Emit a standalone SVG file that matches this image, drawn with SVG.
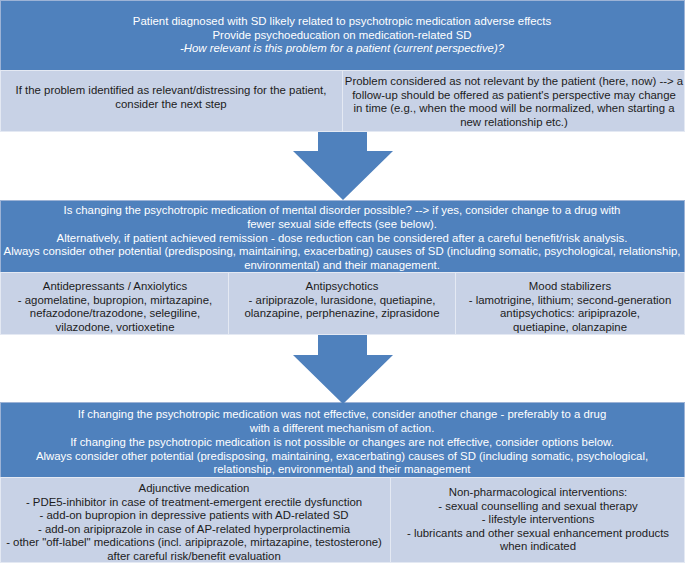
<svg xmlns="http://www.w3.org/2000/svg" width="685" height="563" viewBox="0 0 685 563">
<style>
.blue{fill:#4f81bd;stroke:#9db3d6;stroke-width:1}
.light{fill:#c8d2e6;stroke:#e4e9f3;stroke-width:1}
.arrow{fill:#4f81bd}
text{font-family:"Liberation Sans",Arial,sans-serif;font-size:11.4px;text-anchor:middle}
.w{fill:#ffffff}
.d{fill:#1c1c1c}
.i{font-style:italic}
</style>
<rect width="685" height="563" fill="#ffffff"/>
<g id="step1">
<rect class="blue" x="0.5" y="0.5" width="684" height="70"/>
<text class="w" x="342" y="25">Patient diagnosed with SD likely related to psychotropic medication adverse effects</text>
<text class="w" x="342" y="38.5">Provide psychoeducation on medication-related SD</text>
<text class="w i" x="342" y="52">-How relevant is this problem for a patient (current perspective)?</text>
</g>
<g id="relevant">
<rect class="light" x="0.5" y="70.5" width="342" height="61"/>
<text class="d" x="171" y="94">If the problem identified as relevant/distressing for the patient,</text>
<text class="d" x="171" y="108">consider the next step</text>
</g>
<g id="not-relevant">
<rect class="light" x="342.5" y="70.5" width="342" height="61"/>
<text class="d" x="514" y="85">Problem considered as not relevant by the patient (here, now) --&gt; a</text>
<text class="d" x="514" y="98.5">follow-up should be offered as patient's perspective may change</text>
<text class="d" x="514" y="112">in time (e.g., when the mood will be normalized, when starting a</text>
<text class="d" x="514" y="125.5">new relationship etc.)</text>
</g>
<g id="step2">
<rect class="blue" x="0.5" y="200.5" width="684" height="72"/>
<text class="w" x="342" y="214">Is changing the psychotropic medication of mental disorder possible? --&gt; if yes, consider change to a drug with</text>
<text class="w" x="342" y="227.5">fewer sexual side effects (see below).</text>
<text class="w" x="342" y="241.5">Alternatively, if patient achieved remission - dose reduction can be considered after a careful benefit/risk analysis.</text>
<text class="w" x="342" y="255">Always consider other potential (predisposing, maintaining, exacerbating) causes of SD (including somatic, psychological, relationship,</text>
<text class="w" x="342" y="269">environmental) and their management.</text>
</g>
<g id="antidepressants">
<rect class="light" x="0.5" y="272.5" width="228" height="62"/>
<text class="d" x="115" y="290">Antidepressants / Anxiolytics</text>
<text class="d" x="115" y="303.5">- agomelatine, bupropion, mirtazapine,</text>
<text class="d" x="115" y="317">nefazodone/trazodone, selegiline,</text>
<text class="d" x="115" y="330.5">vilazodone, vortioxetine</text>
</g>
<g id="antipsychotics">
<rect class="light" x="228.5" y="272.5" width="227" height="62"/>
<text class="d" x="342" y="290">Antipsychotics</text>
<text class="d" x="342" y="303.5">- aripiprazole, lurasidone, quetiapine,</text>
<text class="d" x="342" y="317">olanzapine, perphenazine, ziprasidone</text>
</g>
<g id="mood-stabilizers">
<rect class="light" x="455.5" y="272.5" width="229" height="62"/>
<text class="d" x="570" y="290">Mood stabilizers</text>
<text class="d" x="570" y="303.5">- lamotrigine, lithium; second-generation</text>
<text class="d" x="570" y="317">antipsychotics: aripiprazole,</text>
<text class="d" x="570" y="330.5">quetiapine, olanzapine</text>
</g>
<g id="step3">
<rect class="blue" x="0.5" y="402.5" width="684" height="75"/>
<text class="w" x="342" y="418">If changing the psychotropic medication was not effective, consider another change - preferably to a drug</text>
<text class="w" x="342" y="432">with a different mechanism of action.</text>
<text class="w" x="342" y="446">If changing the psychotropic medication is not possible or changes are not effective, consider options below.</text>
<text class="w" x="342" y="459.5">Always consider other potential (predisposing, maintaining, exacerbating) causes of SD (including somatic, psychological,</text>
<text class="w" x="342" y="473">relationship, environmental) and their management</text>
</g>
<g id="adjunctive">
<rect class="light" x="0.5" y="477.5" width="390" height="85"/>
<text class="d" x="194" y="492">Adjunctive medication</text>
<text class="d" x="194" y="505.5">- PDE5-inhibitor in case of treatment-emergent erectile dysfunction</text>
<text class="d" x="194" y="519">- add-on bupropion in depressive patients with AD-related SD</text>
<text class="d" x="194" y="532.5">- add-on aripiprazole in case of AP-related hyperprolactinemia</text>
<text class="d" x="194" y="546">- other "off-label" medications (incl. aripiprazole, mirtazapine, testosterone)</text>
<text class="d" x="194" y="559.5">after careful risk/benefit evaluation</text>
</g>
<g id="non-pharmacological">
<rect class="light" x="390.5" y="477.5" width="294" height="85"/>
<text class="d" x="538" y="496">Non-pharmacological interventions:</text>
<text class="d" x="538" y="509.5">- sexual counselling and sexual therapy</text>
<text class="d" x="538" y="523">- lifestyle interventions</text>
<text class="d" x="538" y="536.5">- lubricants and other sexual enhancement products</text>
<text class="d" x="538" y="550">when indicated</text>
</g>
<g id="connectors">
<polygon class="arrow" points="318,132 367,132 367,151 393,151 343,200 293,151 318,151"/>
<polygon class="arrow" points="318,335 367,335 367,355 393,355 343,404 293,355 318,355"/>
</g>
</svg>
